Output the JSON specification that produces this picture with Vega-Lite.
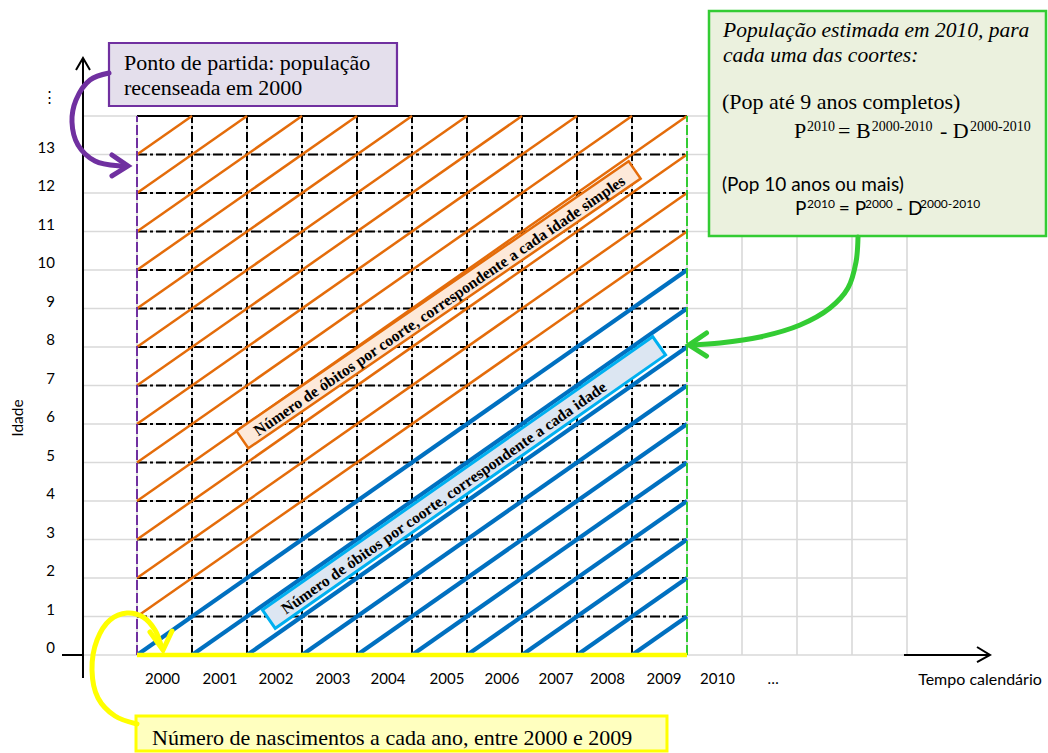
{
  "$schema": "https://vega.github.io/schema/vega-lite/v6.json",
  "width": 1048,
  "height": 753,
  "padding": 0,
  "autosize": {"type": "none"},
  "background": "white",
  "config": {"view": {"stroke": null}},
  "encoding": {
    "x": {"field": "x", "type": "quantitative", "scale": {"domain": [-2.4909, 16.5636], "nice": false, "zero": false}, "axis": null},
    "y": {"field": "y", "type": "quantitative", "scale": {"domain": [-2.5455, 17.013], "nice": false, "zero": false}, "axis": null}
  },
  "layer": [
    {
      "data": {"values": [
        {"x": -0.98, "x2": 14, "y": 0, "y2": 0}, {"x": -0.98, "x2": 14, "y": 1, "y2": 1}, {"x": -0.98, "x2": 14, "y": 2, "y2": 2},
        {"x": -0.98, "x2": 14, "y": 3, "y2": 3}, {"x": -0.98, "x2": 14, "y": 4, "y2": 4}, {"x": -0.98, "x2": 14, "y": 5, "y2": 5},
        {"x": -0.98, "x2": 14, "y": 6, "y2": 6}, {"x": -0.98, "x2": 14, "y": 7, "y2": 7}, {"x": -0.98, "x2": 14, "y": 8, "y2": 8},
        {"x": -0.98, "x2": 14, "y": 9, "y2": 9}, {"x": -0.98, "x2": 14, "y": 10, "y2": 10}, {"x": -0.98, "x2": 14, "y": 11, "y2": 11},
        {"x": -0.98, "x2": 14, "y": 12, "y2": 12}, {"x": -0.98, "x2": 14, "y": 13, "y2": 13}, {"x": -0.98, "x2": 14, "y": 14, "y2": 14},
        {"x": 0, "x2": 0, "y": 0, "y2": 14}, {"x": 1, "x2": 1, "y": 0, "y2": 14}, {"x": 2, "x2": 2, "y": 0, "y2": 14},
        {"x": 3, "x2": 3, "y": 0, "y2": 14}, {"x": 4, "x2": 4, "y": 0, "y2": 14}, {"x": 5, "x2": 5, "y": 0, "y2": 14},
        {"x": 6, "x2": 6, "y": 0, "y2": 14}, {"x": 7, "x2": 7, "y": 0, "y2": 14}, {"x": 8, "x2": 8, "y": 0, "y2": 14},
        {"x": 9, "x2": 9, "y": 0, "y2": 14}, {"x": 10, "x2": 10, "y": 0, "y2": 14}, {"x": 11, "x2": 11, "y": 0, "y2": 14},
        {"x": 12, "x2": 12, "y": 0, "y2": 14}, {"x": 13, "x2": 13, "y": 0, "y2": 14}, {"x": 14, "x2": 14, "y": 0, "y2": 14}
      ]},
      "mark": {"type": "rule", "color": "#D9D9D9", "strokeWidth": 1.6},
      "encoding": {"x2": {"field": "x2"}, "y2": {"field": "y2"}}
    },
    {
      "data": {"values": [
        {"x": 0, "x2": 10, "y": 1, "y2": 1}, {"x": 0, "x2": 10, "y": 2, "y2": 2}, {"x": 0, "x2": 10, "y": 3, "y2": 3},
        {"x": 0, "x2": 10, "y": 4, "y2": 4}, {"x": 0, "x2": 10, "y": 5, "y2": 5}, {"x": 0, "x2": 10, "y": 6, "y2": 6},
        {"x": 0, "x2": 10, "y": 7, "y2": 7}, {"x": 0, "x2": 10, "y": 8, "y2": 8}, {"x": 0, "x2": 10, "y": 9, "y2": 9},
        {"x": 0, "x2": 10, "y": 10, "y2": 10}, {"x": 0, "x2": 10, "y": 11, "y2": 11}, {"x": 0, "x2": 10, "y": 12, "y2": 12},
        {"x": 0, "x2": 10, "y": 13, "y2": 13},
        {"x": 1, "x2": 1, "y": 0, "y2": 14}, {"x": 2, "x2": 2, "y": 0, "y2": 14}, {"x": 3, "x2": 3, "y": 0, "y2": 14},
        {"x": 4, "x2": 4, "y": 0, "y2": 14}, {"x": 5, "x2": 5, "y": 0, "y2": 14}, {"x": 6, "x2": 6, "y": 0, "y2": 14},
        {"x": 7, "x2": 7, "y": 0, "y2": 14}, {"x": 8, "x2": 8, "y": 0, "y2": 14}, {"x": 9, "x2": 9, "y": 0, "y2": 14}
      ]},
      "mark": {"type": "rule", "color": "#000000", "strokeWidth": 2, "strokeDash": [10, 3, 3, 3]},
      "encoding": {"x2": {"field": "x2"}, "y2": {"field": "y2"}}
    },
    {
      "data": {"values": [
        {"x": 0, "x2": 10, "y": 14, "y2": 14},
        {"x": -0.982, "x2": -0.982, "y": -0.597, "y2": 15.506},
        {"x": -1.364, "x2": -0.982, "y": 0, "y2": 0},
        {"x": 13.945, "x2": 15.509, "y": 0, "y2": 0}
      ]},
      "mark": {"type": "rule", "color": "#000000", "strokeWidth": 2},
      "encoding": {"x2": {"field": "x2"}, "y2": {"field": "y2"}}
    },
    {
      "data": {"values": [
        {"x": 0, "y": 1, "x2": 10, "y2": 11}, {"x": 0, "y": 2, "x2": 10, "y2": 12}, {"x": 0, "y": 3, "x2": 10, "y2": 13},
        {"x": 0, "y": 4, "x2": 10, "y2": 14}, {"x": 0, "y": 5, "x2": 9, "y2": 14}, {"x": 0, "y": 6, "x2": 8, "y2": 14},
        {"x": 0, "y": 7, "x2": 7, "y2": 14}, {"x": 0, "y": 8, "x2": 6, "y2": 14}, {"x": 0, "y": 9, "x2": 5, "y2": 14},
        {"x": 0, "y": 10, "x2": 4, "y2": 14}, {"x": 0, "y": 11, "x2": 3, "y2": 14}, {"x": 0, "y": 12, "x2": 2, "y2": 14},
        {"x": 0, "y": 13, "x2": 1, "y2": 14}
      ]},
      "mark": {"type": "rule", "color": "#E46C0A", "strokeWidth": 2.5},
      "encoding": {"x2": {"field": "x2"}, "y2": {"field": "y2"}}
    },
    {
      "data": {"values": [
        {"x": 0, "y": 0, "x2": 10, "y2": 10}, {"x": 1, "y": 0, "x2": 10, "y2": 9}, {"x": 2, "y": 0, "x2": 10, "y2": 8},
        {"x": 3, "y": 0, "x2": 10, "y2": 7}, {"x": 4, "y": 0, "x2": 10, "y2": 6}, {"x": 5, "y": 0, "x2": 10, "y2": 5},
        {"x": 6, "y": 0, "x2": 10, "y2": 4}, {"x": 7, "y": 0, "x2": 10, "y2": 3}, {"x": 8, "y": 0, "x2": 10, "y2": 2},
        {"x": 9, "y": 0, "x2": 10, "y2": 1}
      ]},
      "mark": {"type": "rule", "color": "#0070C0", "strokeWidth": 4.2},
      "encoding": {"x2": {"field": "x2"}, "y2": {"field": "y2"}}
    },
    {
      "data": {"values": [{"x": 0, "x2": 0, "y": 0, "y2": 14}]},
      "mark": {"type": "rule", "color": "#7030A0", "strokeWidth": 2, "strokeDash": [10, 3]},
      "encoding": {"x2": {"field": "x2"}, "y2": {"field": "y2"}}
    },
    {
      "data": {"values": [{"x": 10, "x2": 10, "y": 0, "y2": 14}]},
      "mark": {"type": "rule", "color": "#33CC33", "strokeWidth": 2, "strokeDash": [10, 3]},
      "encoding": {"x2": {"field": "x2"}, "y2": {"field": "y2"}}
    },
    {
      "data": {"values": [{"x": 0, "x2": 10, "y": 0, "y2": 0}]},
      "mark": {"type": "rule", "color": "#FFFF00", "strokeWidth": 4.5},
      "encoding": {"x2": {"field": "x2"}, "y2": {"field": "y2"}}
    },
    {
      "data": {"values": [
        {"g": "ya", "o": 0, "x": -1.109, "y": 15.195}, {"g": "ya", "o": 1, "x": -0.982, "y": 15.506}, {"g": "ya", "o": 2, "x": -0.855, "y": 15.195},
        {"g": "xa", "o": 0, "x": 15.273, "y": 0.208}, {"g": "xa", "o": 1, "x": 15.509, "y": 0}, {"g": "xa", "o": 2, "x": 15.273, "y": -0.182}
      ]},
      "mark": {"type": "line", "color": "#000000", "strokeWidth": 2},
      "encoding": {"order": {"field": "o"}, "detail": {"field": "g"}}
    },
    {
      "data": {"values": [{"x": 5.482, "y": 9.097}]},
      "mark": {"type": "point", "shape": "M-1,-0.0445L1,-0.0445L1,0.0445L-1,0.0445Z", "size": 226576, "angle": -34.5, "filled": true, "fill": "#FDE9D9", "stroke": "#E46C0A", "strokeWidth": 2.5, "opacity": 1, "fillOpacity": 1, "strokeOpacity": 1}
    },
    {
      "data": {"values": [{"x": 5.945, "y": 4.481}]},
      "mark": {"type": "point", "shape": "M-1,-0.047L1,-0.047L1,0.047L-1,0.047Z", "size": 227052, "angle": -35, "filled": true, "fill": "#DCE6F2", "stroke": "#00B0F0", "strokeWidth": 3, "opacity": 1, "fillOpacity": 1, "strokeOpacity": 1}
    },
    {
      "data": {"values": [
        {"x": 5.5, "y": 9.07, "text": "Número de óbitos por coorte, correspondente a cada idade simples", "r": -34.5},
        {"x": 5.582, "y": 4.078, "text": "Número de óbitos por coorte, correspondente a cada idade", "r": -35}
      ]},
      "mark": {"type": "text", "font": "Liberation Serif", "fontWeight": "bold", "fontSize": 15.8, "color": "#000000", "align": "center", "baseline": "middle"},
      "encoding": {"text": {"field": "text"}, "angle": {"field": "r", "type": "quantitative", "scale": null}}
    },
    {
      "data": {"values": [{"x": -0.509, "x2": 4.727, "y": 15.896, "y2": 14.26}]},
      "mark": {"type": "rect", "fill": "#E4DFEC", "stroke": "#7030A0", "strokeWidth": 2.2},
      "encoding": {"x2": {"field": "x2"}, "y2": {"field": "y2"}}
    },
    {
      "data": {"values": [{"x": 10.4, "x2": 16.527, "y": 16.727, "y2": 10.883}]},
      "mark": {"type": "rect", "fill": "#EBF1DE", "stroke": "#33CC33", "strokeWidth": 2.5},
      "encoding": {"x2": {"field": "x2"}, "y2": {"field": "y2"}}
    },
    {
      "data": {"values": [{"x": -0.018, "x2": 9.636, "y": -1.584, "y2": -2.494}]},
      "mark": {"type": "rect", "fill": "#FFFFBF", "stroke": "#FFFF00", "strokeWidth": 3},
      "encoding": {"x2": {"field": "x2"}, "y2": {"field": "y2"}}
    },
    {
      "data": {"values": [
        {"o": 0, "x": -0.509, "y": 15.117}, {"o": 1, "x": -0.855, "y": 14.935}, {"o": 2, "x": -1.109, "y": 14.416},
        {"o": 3, "x": -1.182, "y": 13.844}, {"o": 4, "x": -1.073, "y": 13.247}, {"o": 5, "x": -0.764, "y": 12.831},
        {"o": 6, "x": -0.309, "y": 12.701}, {"o": 7, "x": -0.2, "y": 12.701}
      ]},
      "mark": {"type": "line", "color": "#7030A0", "strokeWidth": 5, "interpolate": "catmull-rom", "strokeCap": "round"},
      "encoding": {"order": {"field": "o"}}
    },
    {
      "data": {"values": [{"o": 0, "x": -0.455, "y": 12.987}, {"o": 1, "x": -0.164, "y": 12.701}, {"o": 2, "x": -0.455, "y": 12.442}]},
      "mark": {"type": "line", "color": "#7030A0", "strokeWidth": 5, "strokeCap": "round", "strokeJoin": "miter"},
      "encoding": {"order": {"field": "o"}}
    },
    {
      "data": {"values": [
        {"o": 0, "x": 0, "y": -1.792}, {"o": 1, "x": -0.4, "y": -1.584}, {"o": 2, "x": -0.709, "y": -1.117},
        {"o": 3, "x": -0.818, "y": -0.39}, {"o": 4, "x": -0.727, "y": 0.39}, {"o": 5, "x": -0.491, "y": 0.909},
        {"o": 6, "x": -0.182, "y": 1.091}, {"o": 7, "x": 0.109, "y": 0.987}, {"o": 8, "x": 0.327, "y": 0.649},
        {"o": 9, "x": 0.436, "y": 0.26}
      ]},
      "mark": {"type": "line", "color": "#FFFF00", "strokeWidth": 5, "interpolate": "catmull-rom", "strokeCap": "round"},
      "encoding": {"order": {"field": "o"}}
    },
    {
      "data": {"values": [{"o": 0, "x": 0.236, "y": 0.597}, {"o": 1, "x": 0.473, "y": 0.13}, {"o": 2, "x": 0.636, "y": 0.623}]},
      "mark": {"type": "line", "color": "#FFFF00", "strokeWidth": 5, "strokeCap": "round", "strokeJoin": "miter"},
      "encoding": {"order": {"field": "o"}}
    },
    {
      "data": {"values": [
        {"o": 0, "x": 13.109, "y": 10.857}, {"o": 1, "x": 13.073, "y": 10.208}, {"o": 2, "x": 12.927, "y": 9.532},
        {"o": 3, "x": 12.6, "y": 9.013}, {"o": 4, "x": 12.055, "y": 8.571}, {"o": 5, "x": 11.327, "y": 8.26},
        {"o": 6, "x": 10.6, "y": 8.104}, {"o": 7, "x": 10.091, "y": 8.052}
      ]},
      "mark": {"type": "line", "color": "#33CC33", "strokeWidth": 5, "interpolate": "catmull-rom", "strokeCap": "round"},
      "encoding": {"order": {"field": "o"}}
    },
    {
      "data": {"values": [{"o": 0, "x": 10.355, "y": 8.364}, {"o": 1, "x": 10.036, "y": 8.052}, {"o": 2, "x": 10.355, "y": 7.766}]},
      "mark": {"type": "line", "color": "#33CC33", "strokeWidth": 5, "strokeCap": "round", "strokeJoin": "miter"},
      "encoding": {"order": {"field": "o"}}
    },
    {
      "data": {"values": [
        {"x": -0.236, "y": 15.195, "text": "Ponto de partida: população"},
        {"x": -0.236, "y": 14.545, "text": "recenseada em 2000"},
        {"x": 0.273, "y": -2.338, "text": "Número de nascimentos a cada ano, entre 2000 e 2009"},
        {"x": 10.636, "y": 14.182, "text": "(Pop até 9 anos completos)"}
      ]},
      "mark": {"type": "text", "font": "Liberation Serif", "fontSize": 22, "color": "#000000", "align": "left", "baseline": "alphabetic"},
      "encoding": {"text": {"field": "text"}}
    },
    {
      "data": {"values": [
        {"x": 10.655, "y": 16.052, "text": "População estimada em 2010, para"},
        {"x": 10.655, "y": 15.403, "text": "cada uma das coortes:"}
      ]},
      "mark": {"type": "text", "font": "Liberation Serif", "fontStyle": "italic", "fontSize": 21.5, "color": "#000000", "align": "left", "baseline": "alphabetic"},
      "encoding": {"text": {"field": "text"}}
    },
    {
      "data": {"values": [
        {"x": 11.945, "y": 13.429, "text": "P"},
        {"x": 12.745, "y": 13.429, "text": "= B"},
        {"x": 14.6, "y": 13.429, "text": "- D"}
      ]},
      "mark": {"type": "text", "font": "Liberation Serif", "fontSize": 22, "color": "#000000", "align": "left", "baseline": "alphabetic"},
      "encoding": {"text": {"field": "text"}}
    },
    {
      "data": {"values": [
        {"x": 12.182, "y": 13.61, "text": "2010"},
        {"x": 13.36, "y": 13.61, "text": "2000-2010"},
        {"x": 15.145, "y": 13.61, "text": "2000-2010"}
      ]},
      "mark": {"type": "text", "font": "Liberation Serif", "fontSize": 14, "color": "#000000", "align": "left", "baseline": "alphabetic"},
      "encoding": {"text": {"field": "text"}}
    },
    {
      "data": {"values": [
        {"x": 10.636, "y": 12.052, "text": "(Pop 10 anos ou mais)"},
        {"x": 11.964, "y": 11.429, "text": "P"},
        {"x": 12.76, "y": 11.429, "text": "= P"},
        {"x": 13.8, "y": 11.429, "text": "- D"}
      ]},
      "mark": {"type": "text", "font": "Lato", "fontSize": 19, "color": "#000000", "align": "left", "baseline": "alphabetic"},
      "encoding": {"text": {"field": "text"}}
    },
    {
      "data": {"values": [
        {"x": 12.182, "y": 11.61, "text": "2010"},
        {"x": 13.236, "y": 11.61, "text": "2000"},
        {"x": 14.236, "y": 11.61, "text": "2000-2010"}
      ]},
      "mark": {"type": "text", "font": "Lato", "fontSize": 12, "color": "#000000", "align": "left", "baseline": "alphabetic"},
      "encoding": {"text": {"field": "text"}}
    },
    {
      "data": {"values": [
        {"x": -1.491, "y": 0.17, "text": "0"}, {"x": -1.491, "y": 1.17, "text": "1"}, {"x": -1.491, "y": 2.17, "text": "2"},
        {"x": -1.491, "y": 3.17, "text": "3"}, {"x": -1.491, "y": 4.17, "text": "4"}, {"x": -1.491, "y": 5.17, "text": "5"},
        {"x": -1.491, "y": 6.17, "text": "6"}, {"x": -1.491, "y": 7.17, "text": "7"}, {"x": -1.491, "y": 8.17, "text": "8"},
        {"x": -1.491, "y": 9.17, "text": "9"}, {"x": -1.491, "y": 10.17, "text": "10"}, {"x": -1.491, "y": 11.17, "text": "11"},
        {"x": -1.491, "y": 12.17, "text": "12"}, {"x": -1.491, "y": 13.17, "text": "13"}
      ]},
      "mark": {"type": "text", "font": "Lato", "fontSize": 15, "color": "#000000", "align": "right", "baseline": "middle"},
      "encoding": {"text": {"field": "text"}}
    },
    {
      "data": {"values": [
        {"x": 0.464, "y": -0.623, "text": "2000"}, {"x": 1.509, "y": -0.623, "text": "2001"}, {"x": 2.527, "y": -0.623, "text": "2002"},
        {"x": 3.564, "y": -0.623, "text": "2003"}, {"x": 4.564, "y": -0.623, "text": "2004"}, {"x": 5.636, "y": -0.623, "text": "2005"},
        {"x": 6.636, "y": -0.623, "text": "2006"}, {"x": 7.618, "y": -0.623, "text": "2007"}, {"x": 8.555, "y": -0.623, "text": "2008"},
        {"x": 9.582, "y": -0.623, "text": "2009"}, {"x": 10.555, "y": -0.623, "text": "2010"}, {"x": 11.564, "y": -0.623, "text": "…"},
        {"x": -1.582, "y": 14.494, "text": "⋮"}
      ]},
      "mark": {"type": "text", "font": "Lato", "fontSize": 15, "color": "#000000", "align": "center", "baseline": "middle"},
      "encoding": {"text": {"field": "text"}}
    },
    {
      "data": {"values": [{"x": 15.327, "y": -0.649, "text": "Tempo calendário"}]},
      "mark": {"type": "text", "font": "Lato", "fontSize": 16, "color": "#000000", "align": "center", "baseline": "middle"},
      "encoding": {"text": {"field": "text"}}
    },
    {
      "data": {"values": [{"x": -2.164, "y": 6.156, "text": "Idade"}]},
      "mark": {"type": "text", "font": "Lato", "fontSize": 15.5, "color": "#000000", "align": "center", "baseline": "middle", "angle": 270},
      "encoding": {"text": {"field": "text"}}
    }
  ]
}
